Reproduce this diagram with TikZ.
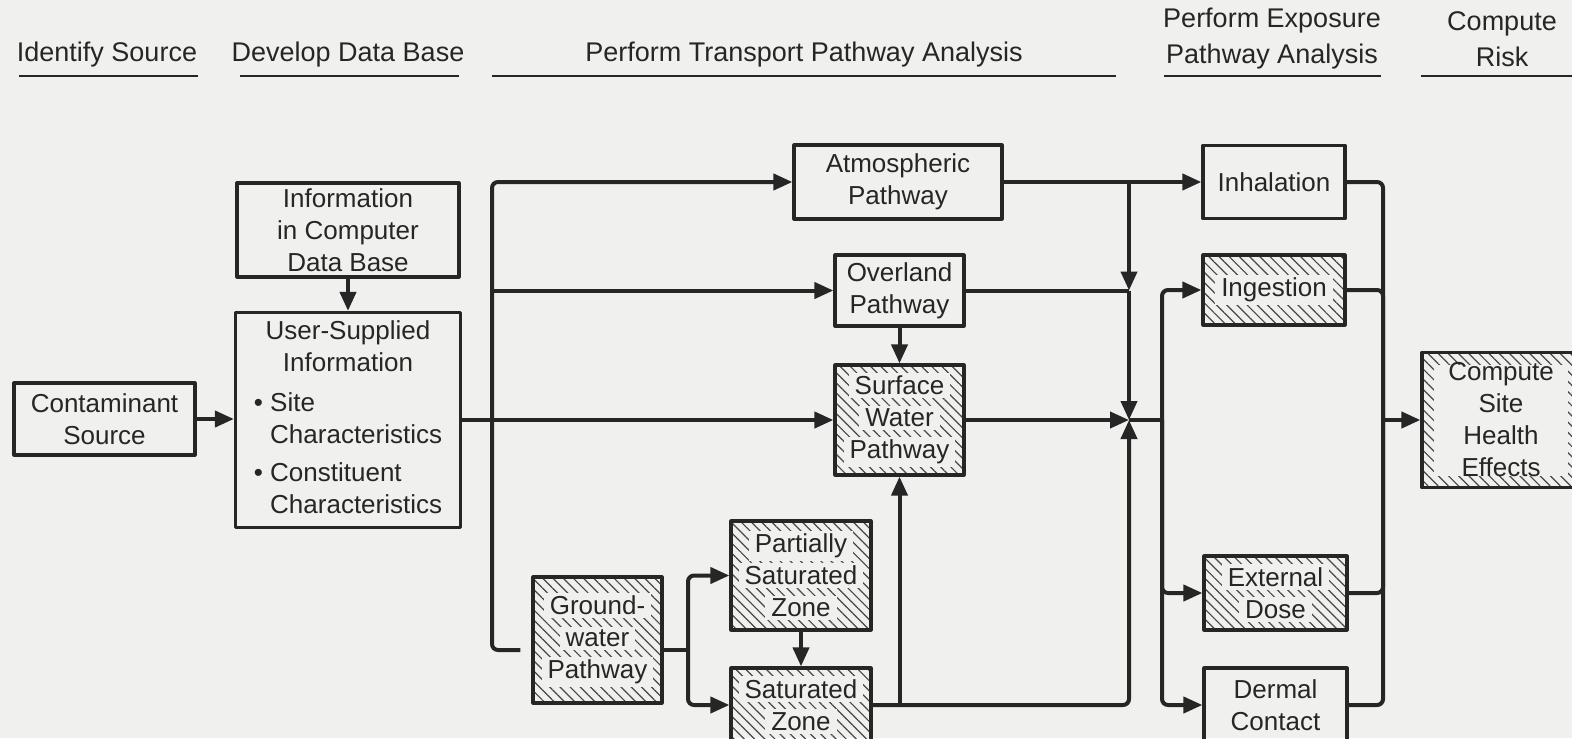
\documentclass[tikz,border=0pt]{standalone}
\usepackage{fontspec}
\setmainfont{Liberation Sans}
\usetikzlibrary{arrows.meta,patterns.meta}
\definecolor{paper}{RGB}{240,240,238}
\definecolor{ink}{RGB}{38,38,38}
\newcommand{\bg}[1]{{\setlength{\fboxsep}{1.5pt}\colorbox{paper}{\hspace{1.5pt}#1\hspace{1.5pt}}}}

\begin{document}
\begin{tikzpicture}[x=0.5pt, y=-0.5pt, ink, line join=round,
    every node/.style={font=\fontsize{13}{16}\selectfont, align=center, text=ink},
    head/.style={font=\fontsize{13.5}{18}\selectfont},
    box/.style={draw=ink, line width=1.6pt, inner sep=2pt},
    hatch/.style={box, preaction={pattern={Lines[angle=-45,distance=3.6pt,line width=0.6pt]}, pattern color=ink!85}},
    hframe/.style={hatch, path picture={\fill[paper] ([shift={(6pt,6pt)}]path picture bounding box.south west) rectangle ([shift={(-6pt,-6pt)}]path picture bounding box.north east);}},
    ln/.style={line width=2pt, rounded corners=3pt},
    arr/.style={ln, -{Triangle[length=9.5pt,width=8pt]}}]
    \fill[paper, use as bounding box] (0,0) rectangle (1572,738);

    \node[head] at (107,55) (H1) {Identify Source};
    \node[head] at (348,55) (H2) {Develop Data Base};
    \node[head] at (804,55) (H3) {Perform Transport Pathway Analysis};
    \node[head] at (1272,39) (H4) {Perform Exposure\\Pathway Analysis};
    \node[head] at (1502,39) (H5) {Compute\\Risk};
    \foreach \a/\b in {19/198, 240/459, 492/1116, 1164/1381, 1421/1572}
        \draw[line width=1.2pt] (\a,76) -- (\b,76);

    \node[box, minimum width=90.5pt, minimum height=36pt] at (104.5,419) (Src) {Contaminant\\Source};
    \node[box, minimum width=111pt, minimum height=47pt] at (348,230) (Info) {Information\\in Computer\\Data Base};
    \node[box, minimum width=112.5pt, minimum height=107.5pt] at (348,420) (User) {\begin{tabular}{@{}l@{}}
        \multicolumn{1}{@{}c@{}}{User-Supplied}\\
        \multicolumn{1}{@{}c@{}}{Information}\\[4pt]
        \textbullet\ Site\\
        \hphantom{\textbullet\ }Characteristics\\[3pt]
        \textbullet\ Constituent\\
        \hphantom{\textbullet\ }Characteristics
    \end{tabular}};
    \node[box, minimum width=104pt, minimum height=37pt] at (898,182) (Atm) {Atmospheric\\Pathway};
    \node[box, minimum width=64.5pt, minimum height=35.5pt] at (899.5,290.5) (Over) {Overland\\Pathway};
    \node[hatch, minimum width=64.5pt, minimum height=55pt] at (899.5,420) (Surf) {\bg{Surface}\\\bg{Water}\\\bg{Pathway}};
    \node[hatch, minimum width=64.5pt, minimum height=63pt] at (597.5,640) (GW) {\bg{Ground-}\\\bg{water}\\\bg{Pathway}};
    \node[hatch, minimum width=70pt, minimum height=54.5pt] at (801,575.5) (Part) {\bg{Partially}\\\bg{Saturated}\\\bg{Zone}};
    \node[hatch, minimum width=70pt, minimum height=37pt] at (801,705) (Sat) {\bg{Saturated}\\\bg{Zone}};
    \node[box, minimum width=71pt, minimum height=36.5pt] at (1274,182) (Inh) {Inhalation};
    \node[hatch, minimum width=71pt, minimum height=35pt] at (1274,290) (Ing) {\bg{Ingestion}};
    \node[hatch, minimum width=71.5pt, minimum height=37pt] at (1275.5,593) (Ext) {\bg{External}\\\bg{Dose}};
    \node[box, minimum width=71.5pt, minimum height=37pt] at (1275.5,705) (Derm) {Dermal\\Contact};
    \node[hframe, minimum width=79pt, minimum height=67.5pt] at (1501,420) (Risk) {Compute\\Site\\Health\\Effects};

    \coordinate (T) at (492,420);
    \coordinate (G) at (688,650);
    \coordinate (K) at (1129,182);
    \coordinate (J) at (1129,420);
    \coordinate (E) at (1162,420);
    \coordinate (R) at (1383,420);

    \draw[arr] (Src.east) -- (Src.east -| User.west);
    \draw[arr] (Info.south) -- (User.north);
    \draw[arr] (User.east) -- (Surf.west);
    \draw[arr] (T) |- (Atm.west);
    \draw[arr] (T |- Over.west) -- (Over.west);
    \draw[ln, shorten >=5.5pt] (T) |- ([yshift=-5pt]GW.west);
    \draw[ln] ([yshift=-5pt]GW.east) -- (G);
    \draw[arr] (G) |- (Part.west);
    \draw[arr] (G) |- (Sat.west);
    \draw[arr] (Part.south) -- (Sat.north);
    \draw[arr] (Over.south) -- (Surf.north);
    \draw[arr] (Sat.east) -| (J);
    \draw[arr] (Sat.east -| Surf.south) -- (Surf.south);
    \draw[arr] (Atm.east) -- (Inh.west);
    \draw[arr] (K) -- (Over.east -| K);
    \draw[ln] (Over.east) -- (Over.east -| K);
    \draw[arr] (Over.east -| K) -- (J);
    \draw[arr] (Surf.east) -- (J);
    \draw[ln] (J) -- (E);
    \draw[arr] (E) |- (Ing.west);
    \draw[arr] (E) |- (Ext.west);
    \draw[arr] (E) |- (Derm.west);
    \foreach \n in {Inh,Ing,Ext,Derm}
        \draw[ln] (\n.east) -| (R);
    \draw[arr] (R) -- (Risk.west);
\end{tikzpicture}
\end{document}
